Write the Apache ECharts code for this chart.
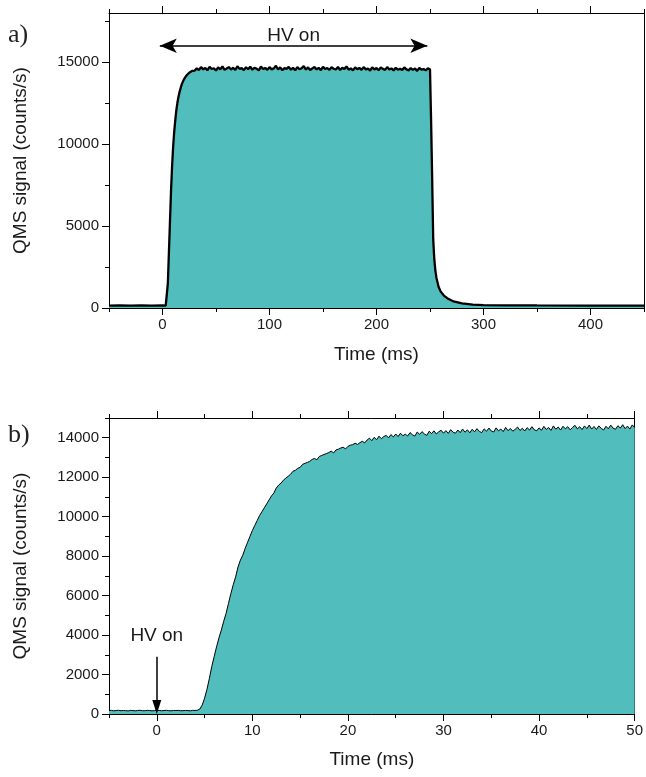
<!DOCTYPE html>
<html>
<head>
<meta charset="utf-8">
<script src="https://cdn.jsdelivr.net/npm/echarts@6/dist/echarts.min.js"></script>
<style>
html,body{margin:0;padding:0;background:#fff;}
#chart{width:646px;height:777px;}
</style>
</head>
<body>
<div id="chart"></div>
<script>
// ---------- Panel a) : full pulse ----------
const aTime   = [-50, -40, -30, -20, -10, 0, 3, 4, 5, 6, 7, 8, 9, 10, 11, 12, 13, 14, 15, 16, 18, 20, 22, 24, 26, 28];
const aSignal = [150, 160, 145, 155, 150, 160, 150, 180, 1500, 3400, 5300, 7200, 8700, 9900, 10800, 11500, 12100, 12550, 12900, 13200, 13650, 13950, 14150, 14300, 14400, 14470];
// plateau sampled every 2 ms from 30 ms to 250 ms
const aPlateauStart = 30;
const aPlateauStep = 2;
const aPlateau = [
 14480,14620,14520,14700,14560,14650,14500,14720,14580,14630,
 14490,14680,14560,14740,14530,14610,14700,14550,14660,14520,
 14750,14590,14640,14510,14690,14570,14720,14540,14660,14600,
 14500,14730,14580,14650,14530,14700,14560,14620,14780,14550,
 14680,14510,14640,14590,14710,14540,14660,14500,14700,14570,
 14630,14760,14550,14680,14520,14620,14700,14560,14650,14510,
 14720,14580,14640,14530,14690,14600,14550,14710,14520,14660,
 14580,14740,14540,14620,14500,14680,14570,14650,14530,14700,
 14560,14610,14480,14690,14550,14640,14510,14670,14590,14530,
 14700,14550,14620,14490,14660,14540,14600,14520,14680,14560,
 14500,14640,14530,14610,14470,14650,14540,14580,14500,14620,
 14560];
const aFallTime   = [251, 252, 253, 254, 255, 256, 258, 260, 263, 267, 272, 280, 290, 300, 320, 350, 400, 450];
const aFallSignal = [11500, 8000, 4200, 3000, 2300, 1850, 1300, 1000, 760, 560, 400, 280, 210, 180, 165, 155, 150, 150];
const aXMajor = [0, 100, 200, 300, 400];
const aXMinor = [-50, 50, 150, 250, 350, 450];
const aYMajor = [0, 5000, 10000, 15000];
const aYMinor = [2500, 7500, 12500, 17500];

// ---------- Panel b) : rise, sampled every 0.25 ms from -5 ms ----------
const bStart = -5;
const bStep = 0.25;
const bSignal = [
 // -5 .. 4
 170,185,160,175,190,165,180,170,155,185,175,160,180,190,170,165,185,175,160,170,185,180,165,175,190,170,160,180,175,185,165,170,180,175,160,185,180,
 // 4.25 .. 22
 190,250,450,800,1250,1800,2400,2900,
 3400,3850,4250,4700,5100,5600,6100,6550,
 6950,7450,7800,8050,8400,8700,9000,9300,
 9550,9800,10050,10250,10450,10650,10850,11050,
 11200,11450,11600,11700,11850,11950,12050,12150,
 12300,12350,12450,12500,12650,12700,12750,12800,
 12900,12950,12880,13050,13100,13150,13200,13250,
 13320,13230,13380,13420,13480,13520,13430,13560,
 13620,13650,13720,13660,13750,13820,13740,13880,
 // 22.25 .. 50
 13980,13850,14020,13900, 14080,13950,14060,14120, 13990,14160,14040,14190, 14060,14230,14100,14180,
 14090,14260,14150,14080, 14290,14170,14310,14190, 14120,14330,14210,14350, 14190,14300,14380,14230,
 14360,14220,14410,14280, 14230,14390,14260,14440, 14280,14400,14250,14430, 14300,14460,14320,14260,
 14450,14330,14490,14340, 14290,14500,14350,14440, 14310,14520,14360,14470, 14330,14430,14540,14370,
 14480,14340,14510,14390, 14560,14400,14350,14500, 14380,14580,14420,14520, 14370,14600,14430,14540,
 14390,14580,14450,14560, 14400,14520,14630,14450, 14560,14410,14600,14460, 14640,14440,14570,14420,
 14600,14480,14390,14580, 14450,14640,14480,14430, 14610,14490,14660,14460, 14590,14440,14650,14520
];
const bXMajor = [0, 10, 20, 30, 40, 50];
const bXMinor = [-5, 5, 15, 25, 35, 45];
const bYMajor = [0, 2000, 4000, 6000, 8000, 10000, 12000, 14000];
const bYMinor = [1000, 3000, 5000, 7000, 9000, 11000, 13000, 15000];

if (aPlateau.length !== 111) throw new Error('aPlateau length ' + aPlateau.length);
if (bSignal.length !== 221) throw new Error('bSignal length ' + bSignal.length);

// ---------- build series data ----------
const aData = [];
aTime.forEach((t, i) => aData.push([t, aSignal[i]]));
aPlateau.forEach((v, i) => aData.push([aPlateauStart + i * aPlateauStep, v]));
aFallTime.forEach((t, i) => aData.push([t, aFallSignal[i]]));
const bData = bSignal.map((v, i) => [bStart + i * bStep, v]);

// ---------- styling ----------
const FONT = '"Liberation Sans", Arial, sans-serif';
const TXT = '#1a1a1a';
const LS = { color: '#000', width: 1 };
const TEAL = '#52BDBD';

function makeAxes(dim, grid, min, max, major, minor, mainPos, otherPos, name, nameGap, ticksOnOther) {
  const base = {
    type: 'value', gridIndex: grid, min: min, max: max,
    splitLine: { show: false },
    axisLine: { show: false, onZero: false },
    axisTick: { show: false },
    axisLabel: { show: false }
  };
  const list = [
    Object.assign({}, base, {
      position: mainPos,
      axisLine: { show: true, onZero: false, lineStyle: LS },
      axisTick: { show: true, customValues: major, length: 7, inside: false, lineStyle: LS },
      axisLabel: { show: true, customValues: major, formatter: v => String(v),
        color: TXT, fontSize: 15, fontFamily: FONT, margin: dim === 'x' ? 9 : 10 },
      name: name, nameLocation: 'middle', nameGap: nameGap,
      nameTextStyle: { color: TXT, fontSize: 19, fontFamily: FONT }
    }),
    Object.assign({}, base, {
      position: mainPos,
      axisTick: { show: true, customValues: minor, length: 4, inside: false, lineStyle: LS }
    }),
    Object.assign({}, base, {
      position: otherPos,
      axisLine: { show: true, onZero: false, lineStyle: LS },
      axisTick: ticksOnOther ? { show: true, customValues: major, length: 7, inside: false, lineStyle: LS } : { show: false }
    })
  ];
  if (ticksOnOther) {
    list.push(Object.assign({}, base, {
      position: otherPos,
      axisTick: { show: true, customValues: minor, length: 4, inside: false, lineStyle: LS }
    }));
  }
  return list;
}

const xAxes = [].concat(
  makeAxes('x', 0, -50, 450, aXMajor, aXMinor, 'bottom', 'top', 'Time (ms)', 37, true),
  makeAxes('x', 1, -5, 50, bXMajor, bXMinor, 'bottom', 'top', 'Time (ms)', 36, true)
);
const yAxes = [].concat(
  makeAxes('y', 0, 0, 18000, aYMajor, aYMinor, 'left', 'right', 'QMS signal (counts/s)', 79, false),
  makeAxes('y', 1, 0, 15000, bYMajor, bYMinor, 'left', 'right', 'QMS signal (counts/s)', 79, false)
);

const chart = echarts.init(document.getElementById('chart'), null, { renderer: 'canvas' });
chart.setOption({
  animation: false,
  backgroundColor: '#fff',
  grid: [
    { left: 109, top: 13, width: 535, height: 295, containLabel: false },
    { left: 109, top: 418, width: 530, height: 296, containLabel: false }
  ],
  xAxis: xAxes,
  yAxis: yAxes,
  graphic: [
    { type: 'text', left: 8, top: 22, style: { text: 'a)', font: '26px "Liberation Serif", "Times New Roman", serif', fill: '#222' } },
    { type: 'text', left: 8, top: 422, style: { text: 'b)', font: '26px "Liberation Serif", "Times New Roman", serif', fill: '#222' } }
  ],
  series: [
    {
      type: 'line', xAxisIndex: 0, yAxisIndex: 0, data: aData,
      showSymbol: false, symbol: 'none', silent: true,
      lineStyle: { color: '#000', width: 2.3 },
      areaStyle: { color: TEAL, opacity: 1 },
      markLine: {
        silent: true, symbol: ['arrow', 'arrow'], symbolSize: [11, 17],
        lineStyle: { color: '#000', width: 1.5, type: 'solid' },
        label: { show: true, position: 'insideMiddleTop', formatter: 'HV on', color: TXT, fontSize: 19, fontFamily: FONT, distance: 1 },
        data: [[{ coord: [-2.5, 16000] }, { coord: [247.5, 16000] }]]
      }
    },
    {
      type: 'line', xAxisIndex: 4, yAxisIndex: 3, data: bData,
      showSymbol: false, symbol: 'none', silent: true,
      lineStyle: { color: '#000', width: 1 },
      areaStyle: { color: TEAL, opacity: 1 },
      markLine: {
        silent: true, symbol: ['none', 'triangle'], symbolSize: [9, 14],
        lineStyle: { color: '#000', width: 1.5, type: 'solid' },
        label: { show: true, position: 'start', formatter: 'HV on', color: TXT, fontSize: 19, fontFamily: FONT, distance: 12 },
        data: [[{ coord: [0, 2900] }, { coord: [0, 360] }]]
      }
    }
  ]
});
</script>
</body>
</html>
